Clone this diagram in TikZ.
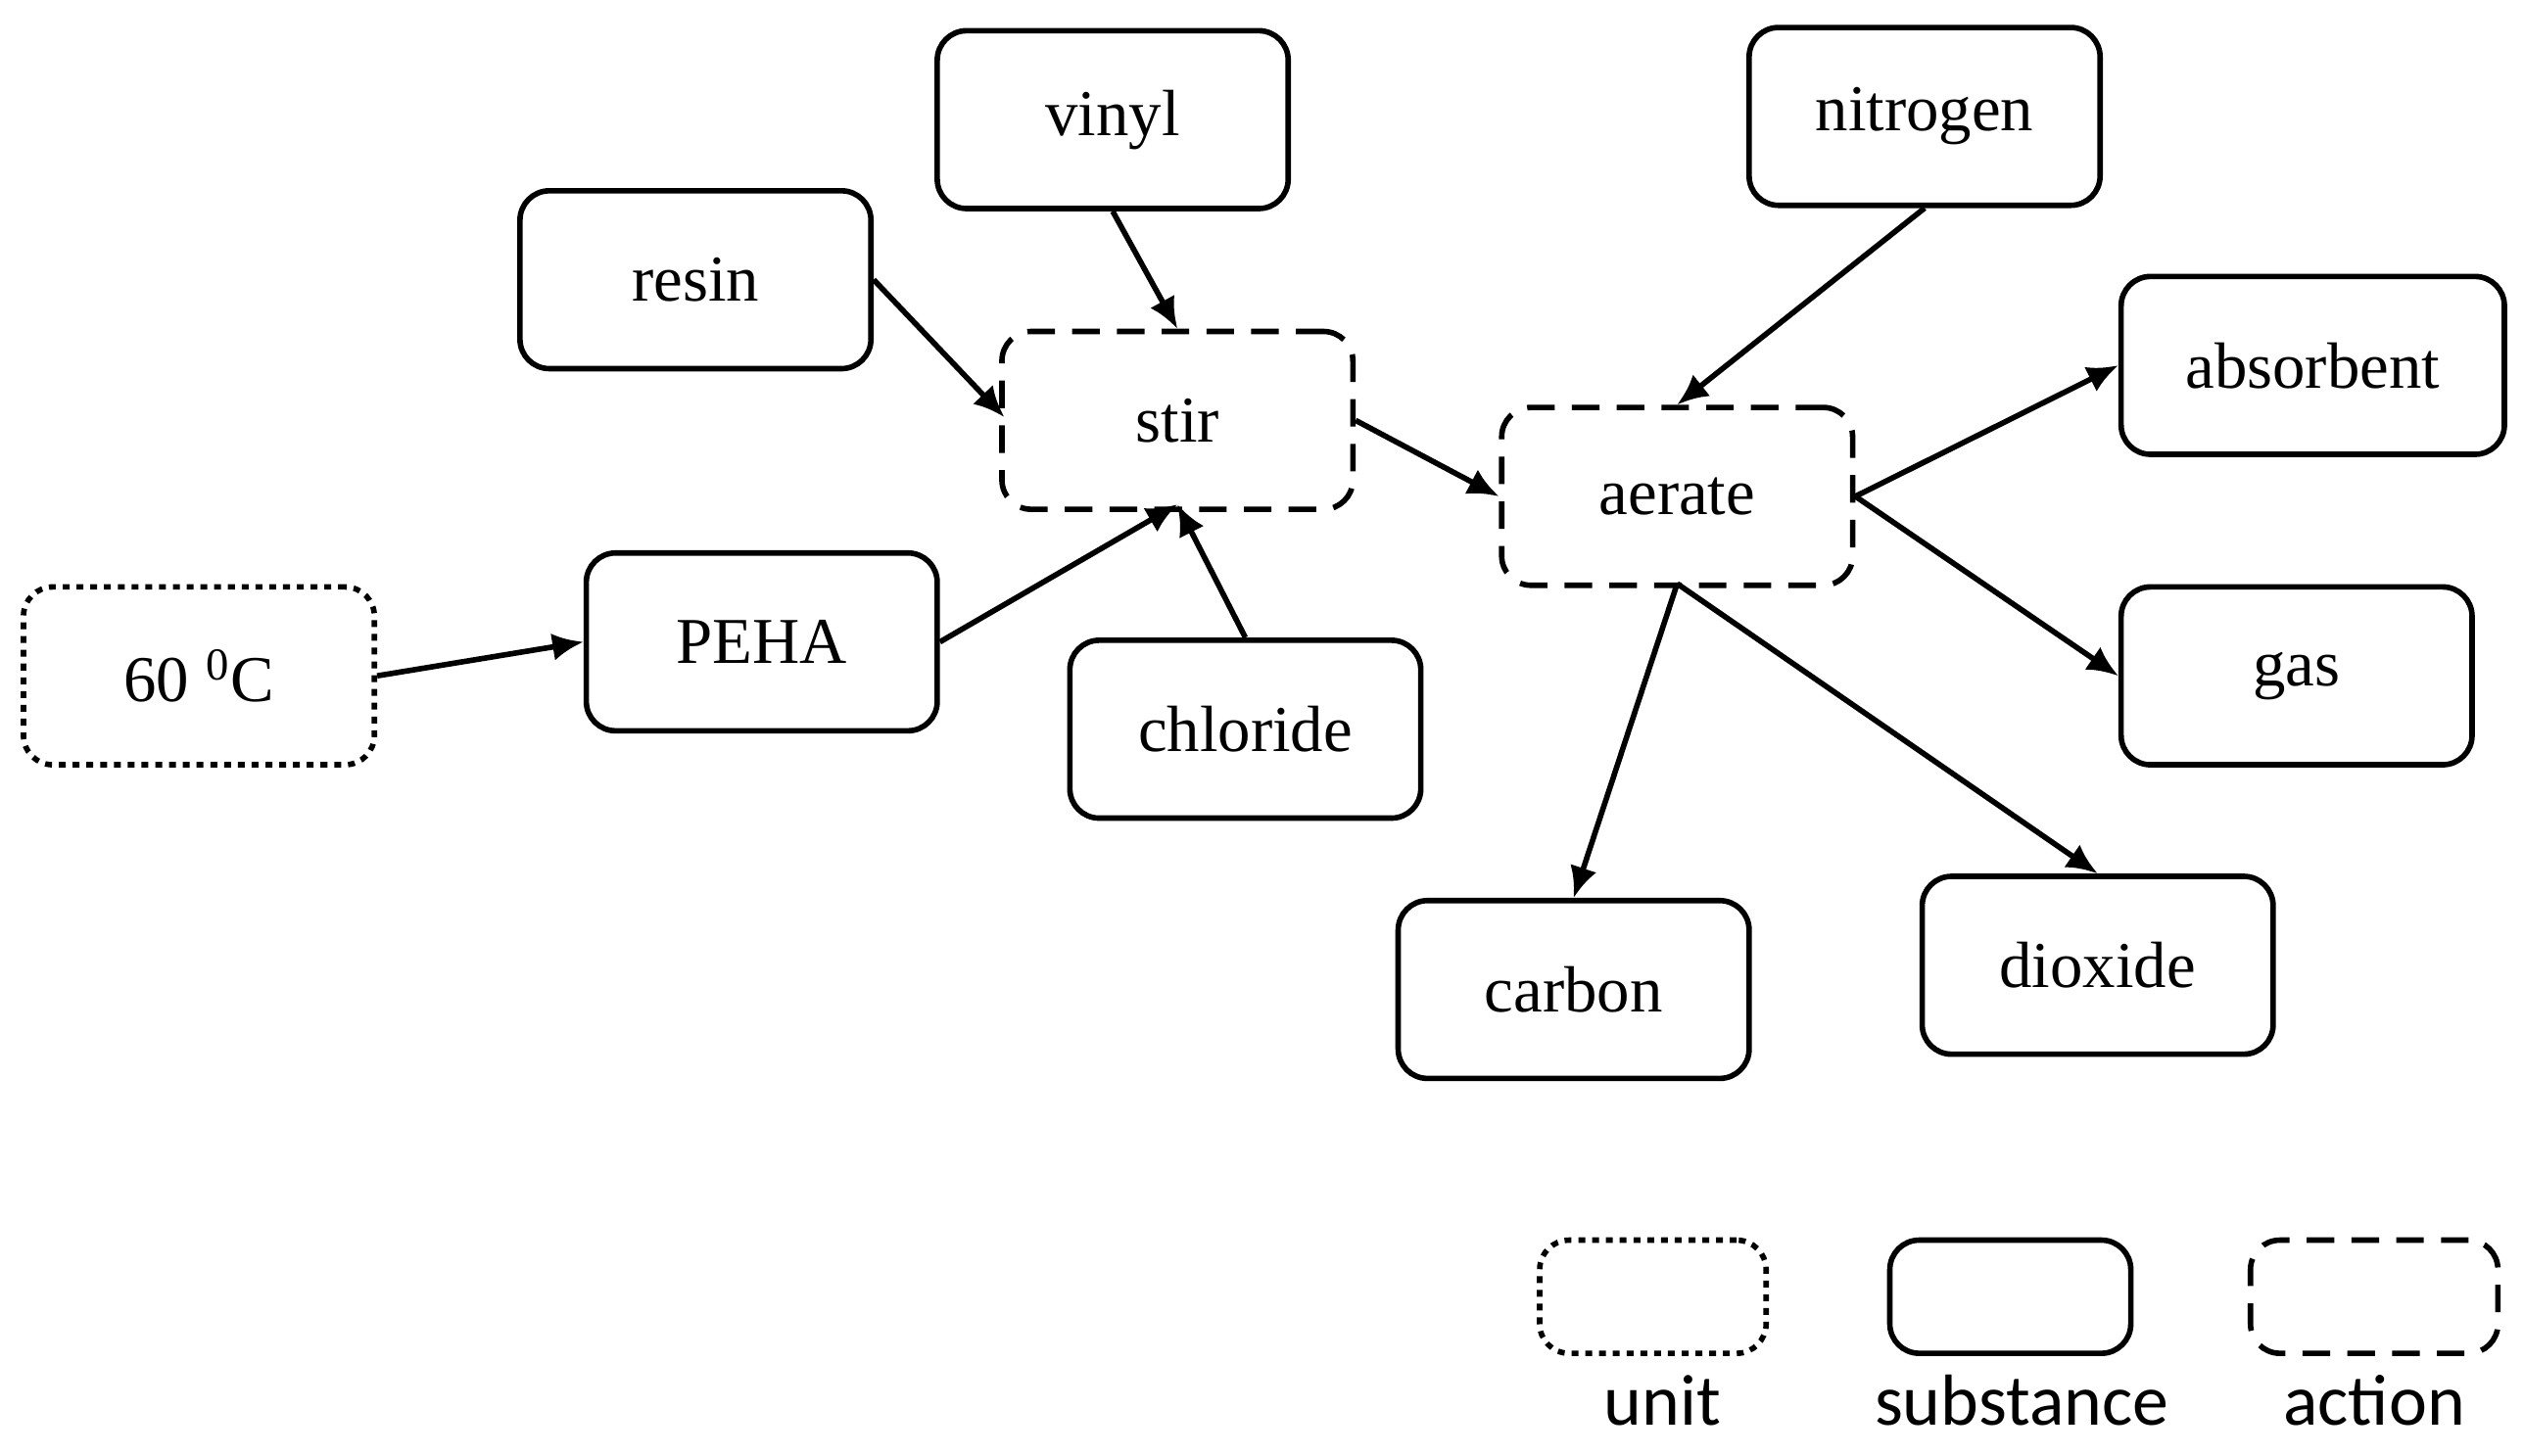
\documentclass[tikz,border=0pt]{standalone}
\usepackage{fontspec}
\setmainfont{Liberation Serif}
\newfontfamily\legfont{Carlito}
\usetikzlibrary{arrows.meta}
\begin{document}
\begin{tikzpicture}[x=0.016513cm,y=-0.016513cm,
  box/.style={draw,line width=1.6pt,rounded corners=0.3cm,minimum width=217*0.016513cm,minimum height=110*0.016513cm,font=\fontsize{19}{22}\selectfont,inner sep=0pt},
  sub/.style={box},
  act/.style={box,dashed,dash pattern=on 8pt off 5pt},
  unit/.style={box,dash pattern=on 2pt off 2pt},
  arr/.style={line width=1.6pt,-{Latex[length=9pt,width=8pt]}},
  leg/.style={font=\legfont\fontsize{21}{24}\selectfont}]
\useasboundingbox (0,0) rectangle (1560,900.5);
\node[sub] (vinyl) at (688,74) {vinyl};
\node[sub] (resin) at (430,173) {resin};
\node[act] (stir) at (728,260) {stir};
\node[sub] (nitrogen) at (1190,72) {nitrogen};
\node[sub,minimum width=237*0.016513cm] (absorbent) at (1430,226) {absorbent};
\node[act] (aerate) at (1037,307) {aerate};
\node[sub] (gas) at (1420,418) {gas};
\node[unit] (t60) at (123,418) {60 \textsuperscript{0}C};
\node[sub] (peha) at (471,397) {PEHA};
\node[sub] (chloride) at (770,451) {chloride};
\node[sub] (carbon) at (973,612) {carbon};
\node[sub] (dioxide) at (1297,597) {dioxide};
\node[unit,minimum width=140*0.016513cm,minimum height=70*0.016513cm] (lu) at (1022,802) {};
\node[sub,minimum width=149*0.016513cm,minimum height=70*0.016513cm] (ls) at (1243,802) {};
\node[act,minimum width=153*0.016513cm,minimum height=70*0.016513cm] (la) at (1468,802) {};
\node[leg] (lut) at (1028,866) {unit};
\node[leg] (lst) at (1250,866) {substance};
\node[leg] (lat) at (1468,866) {action};
\coordinate (stirB) at (728,312);
\coordinate (aerB) at (1037,361);
\draw[arr] (vinyl.south) -- (stir.north);
\draw[arr] (resin.east) -- (621,258);
\draw[arr] (peha.east) -- (stirB);
\draw[arr] (chloride.north) -- (stirB);
\draw[arr] (t60.east) -- (peha.west);
\draw[arr] (stir.east) -- (aerate.west);
\draw[arr] (nitrogen.south) -- (aerate.north);
\draw[arr] (aerate.east) -- (absorbent.west);
\draw[arr] (aerate.east) -- (gas.west);
\draw[arr] (aerB) -- (carbon.north);
\draw[arr] (aerB) -- (dioxide.north);
\end{tikzpicture}
\end{document}
